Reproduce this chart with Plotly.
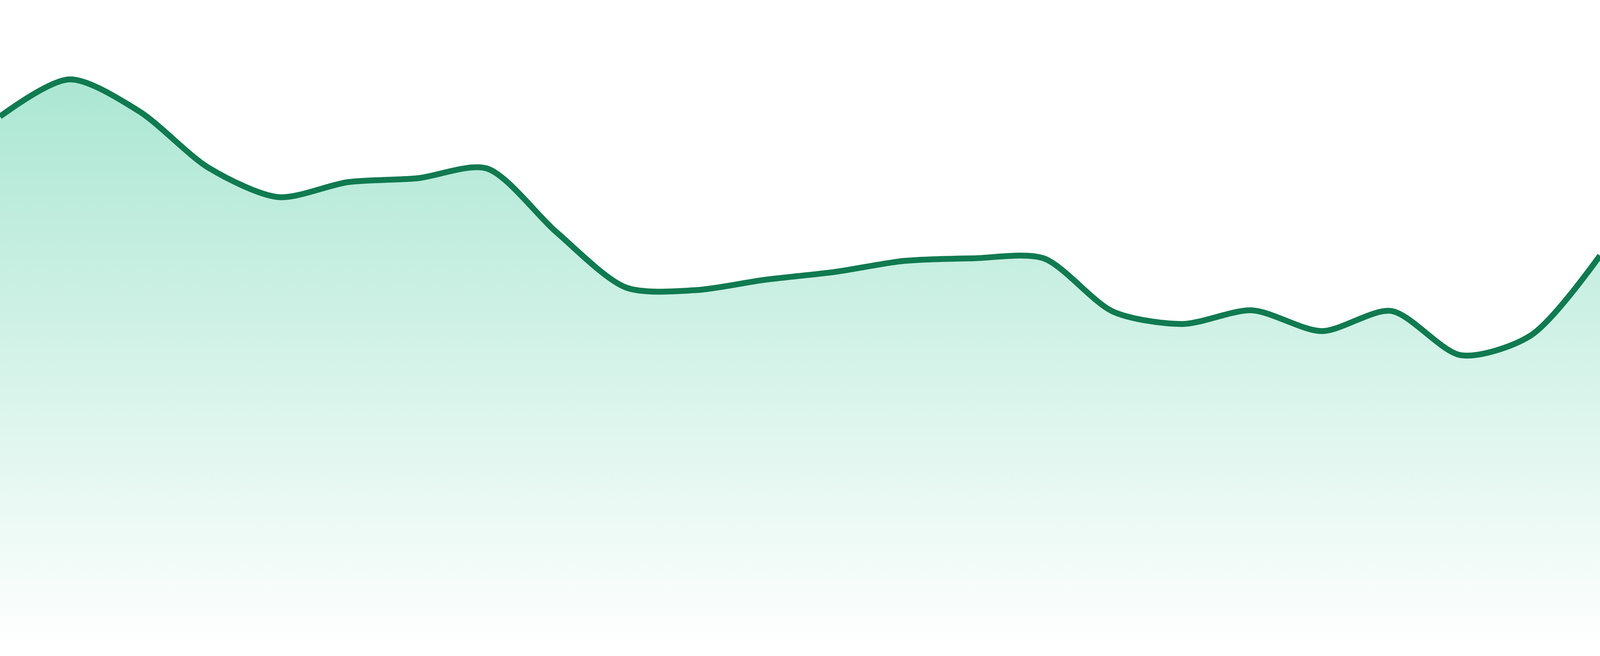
import plotly.graph_objects as go

# 24 evenly spaced observations (index) and their values (arbitrary units, 0-100 scale)
periods = list(range(24))
values = [82.1, 87.8, 82.9, 74.2, 69.7, 72.0, 72.6, 74.1, 64.3, 55.8, 55.4, 57.0,
          58.2, 59.9, 60.3, 60.3, 52.1, 50.2, 52.3, 49.1, 52.2, 45.4, 48.4, 60.7]

LINE_COLOR = "#107a50"

fig = go.Figure()
fig.add_trace(go.Scatter(
    x=periods,
    y=values,
    mode="lines",
    line=dict(color=LINE_COLOR, width=15, shape="spline", smoothing=0.8),
    fill="tozeroy",
    fillgradient=dict(
        type="vertical",
        start=0,
        stop=100,
        colorscale=[[0, "rgba(16,185,129,0.0)"], [1, "rgba(16,185,129,0.40)"]],
    ),
    hoverinfo="skip",
    showlegend=False,
))

fig.update_layout(
    autosize=True,
    margin=dict(l=0, r=0, t=0, b=0, pad=0),
    paper_bgcolor="white",
    plot_bgcolor="white",
    xaxis=dict(range=[0, 23], visible=False, showgrid=False, zeroline=False, fixedrange=True),
    yaxis=dict(range=[-0.84, 100], visible=False, showgrid=False, zeroline=False, fixedrange=True),
)

fig.write_html(
    "out.html",
    config={"displayModeBar": False, "staticPlot": True, "responsive": True},
    default_width="100vw",
    default_height="100vh",
    post_script=(
        "document.body.style.margin='0';document.body.style.padding='0';"
        "document.body.style.overflow='hidden';"
        "Plotly.Plots.resize(document.getElementById('{plot_id}'));"
    ),
)
